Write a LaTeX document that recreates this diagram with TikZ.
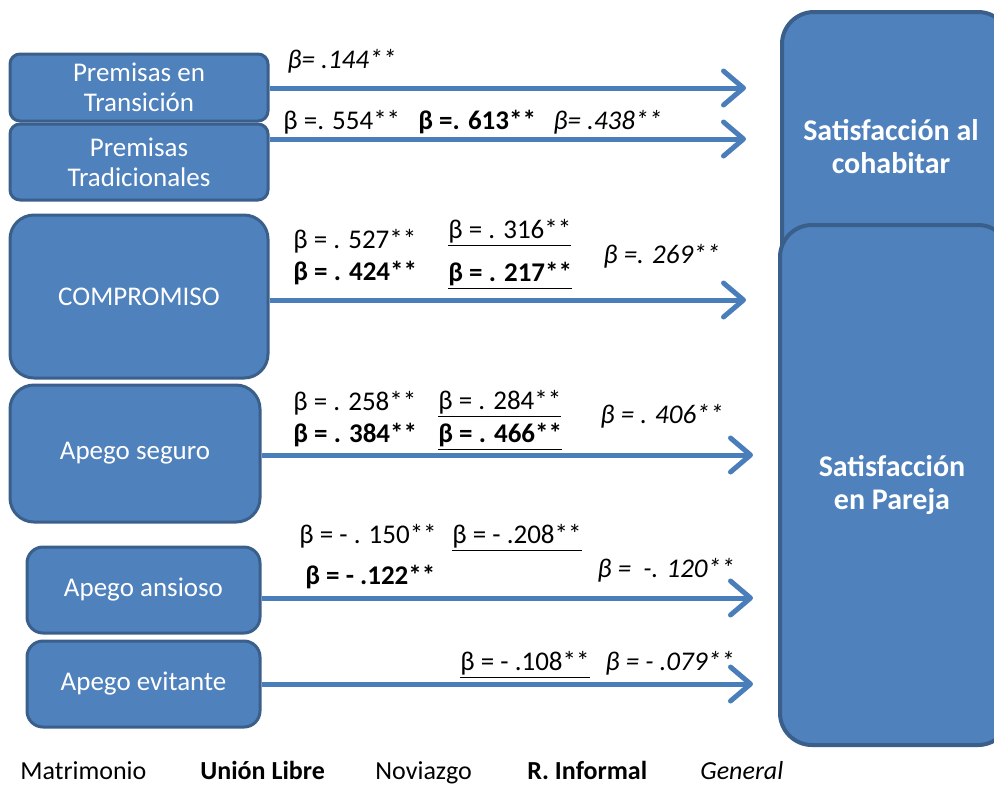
\documentclass[tikz,border=0pt]{standalone}
\usepackage{fontspec}
\setmainfont{Carlito}
\usetikzlibrary{positioning, calc, arrows.meta}
\definecolor{boxfill}{HTML}{4F81BD}
\definecolor{boxline}{HTML}{3A5F8B}
\definecolor{arrowblue}{HTML}{4A7EBB}
\tikzstyle{Arrow} = [
%Open blue arrow from predictor to outcome:
line width = 2.5pt, draw = arrowblue,
-{Straight Barb[length = 10pt, width = 17pt, round]}
]

\begin{document}
\begin{tikzpicture}[x = 0.5pt, y = -0.5pt,
				predictor/.style = {rectangle, draw = boxline, line width = 1.5pt, fill = boxfill, text = white, align = center, inner sep = 0pt, font = \fontsize{13.5}{15}\selectfont},
				outcome/.style = {rectangle, rounded corners = 16pt, draw = boxline, line width = 2pt, fill = boxfill, inner sep = 0pt},
				outcometext/.style = {text = white, align = center, inner sep = 0pt, font = \fontsize{15}{16.5}\selectfont\bfseries},
				coef/.style = {anchor = base west, inner sep = 0pt, font = \fontsize{13.5}{15}\selectfont},
				group/.style = {anchor = base west, inner sep = 0pt, font = \fontsize{13}{15}\selectfont},
			]
			\clip (0,0) rectangle (994,784);

			\node[outcome, minimum width = 114pt, minimum height = 194pt](SC) at (896,206){};
			\node[outcome, minimum width = 115pt, minimum height = 260pt](SP) at (895,485){};
			\node[outcometext](SCt) at (891,147){Satisfacción al\\cohabitar};
			\node[outcometext](SPt) at (892,485){Satisfacción\\en Pareja};

			\node[predictor, rounded corners = 5pt, minimum width = 129pt, minimum height = 33.5pt](PT) at (139,87.5){Premisas en\\Transición};
			\node[predictor, rounded corners = 5pt, minimum width = 129pt, minimum height = 38pt](PR) at (139,162){Premisas\\Tradicionales};
			\node[predictor, rounded corners = 12pt, minimum width = 129pt, minimum height = 81.5pt](CO) at (139,296.5){COMPROMISO};
			\node[predictor, rounded corners = 12pt, minimum width = 125pt, minimum height = 68.5pt](AS) at (135,453.5){Apego seguro};
			\node[predictor, rounded corners = 8pt, minimum width = 116.5pt, minimum height = 43pt](AA) at (143.5,590){Apego ansioso};
			\node[predictor, rounded corners = 8pt, minimum width = 116.5pt, minimum height = 43pt](AE) at (143.5,684){Apego evitante};

			\coordinate(ePT) at (746,88);
			\coordinate(ePR) at (746,139);
			\coordinate(eCO) at (746,300);
			\coordinate(eAS) at (753,455);
			\coordinate(eAA) at (753,598);
			\coordinate(eAE) at (753,684);

			\draw[Arrow](PT.east |- ePT)--(ePT);
			\draw[Arrow](PR.east |- ePR)--(ePR);
			\draw[Arrow](CO.east |- eCO)--(eCO);
			\draw[Arrow](AS.east |- eAS)--(eAS);
			\draw[Arrow](AA.east |- eAA)--(eAA);
			\draw[Arrow](AE.east |- eAE)--(eAE);

			\node[coef, font = \fontsize{13.5}{15}\selectfont\itshape](gPT) at (287,68){β= .144**};
			\node[coef](mPR) at (283,129){β =. 554**};
			\node[coef, font = \fontsize{13.5}{15}\selectfont\bfseries](uPR) at (418,129){β =. 613**};
			\node[coef, font = \fontsize{13.5}{15}\selectfont\itshape](gPR) at (553,129){β= .438**};

			\node[coef](mCO) at (293,248){β = . 527**};
			\node[coef](nCO) at (448,238){\underline{β = . 316**}};
			\node[coef, font = \fontsize{13.5}{15}\selectfont\bfseries](uCO) at (293,280){β = . 424**};
			\node[coef, font = \fontsize{13.5}{15}\selectfont\bfseries](rCO) at (448,281){\underline{β = . 217**}};
			\node[coef, font = \fontsize{13.5}{15}\selectfont\itshape](gCO) at (603,263){β =. 269**};

			\node[coef](mAS) at (293,410){β = . 258**};
			\node[coef](nAS) at (438,409){\underline{β = . 284**}};
			\node[coef, font = \fontsize{13.5}{15}\selectfont\bfseries](uAS) at (293,442){β = . 384**};
			\node[coef, font = \fontsize{13.5}{15}\selectfont\bfseries](rAS) at (438,442){\underline{β = . 466**}};
			\node[coef, font = \fontsize{13.5}{15}\selectfont\itshape](gAS) at (600,423){β = . 406**};

			\node[coef](mAA) at (299,543){β = - . 150**};
			\node[coef](nAA) at (452,543){\underline{β = - .208**}};
			\node[coef, font = \fontsize{13.5}{15}\selectfont\bfseries](uAA) at (305,584){β = - .122**};
			\node[coef, font = \fontsize{13.5}{15}\selectfont\itshape](gAA) at (597,577){β =~~-. 120**};

			\node[coef](nAE) at (460,670){\underline{β = - .108**}};
			\node[coef, font = \fontsize{13.5}{15}\selectfont\itshape](gAE) at (605,670){β = - .079**};

			\node[group](Ma) at (20,779){Matrimonio};
			\node[group, font = \fontsize{13}{15}\selectfont\bfseries](UL) at (200,779){Unión Libre};
			\node[group](No) at (375,779){Noviazgo};
			\node[group, font = \fontsize{13}{15}\selectfont\bfseries](RI) at (527,779){R. Informal};
			\node[group, font = \fontsize{13}{15}\selectfont\itshape](Ge) at (700,779){General};

		\end{tikzpicture}
\end{document}
